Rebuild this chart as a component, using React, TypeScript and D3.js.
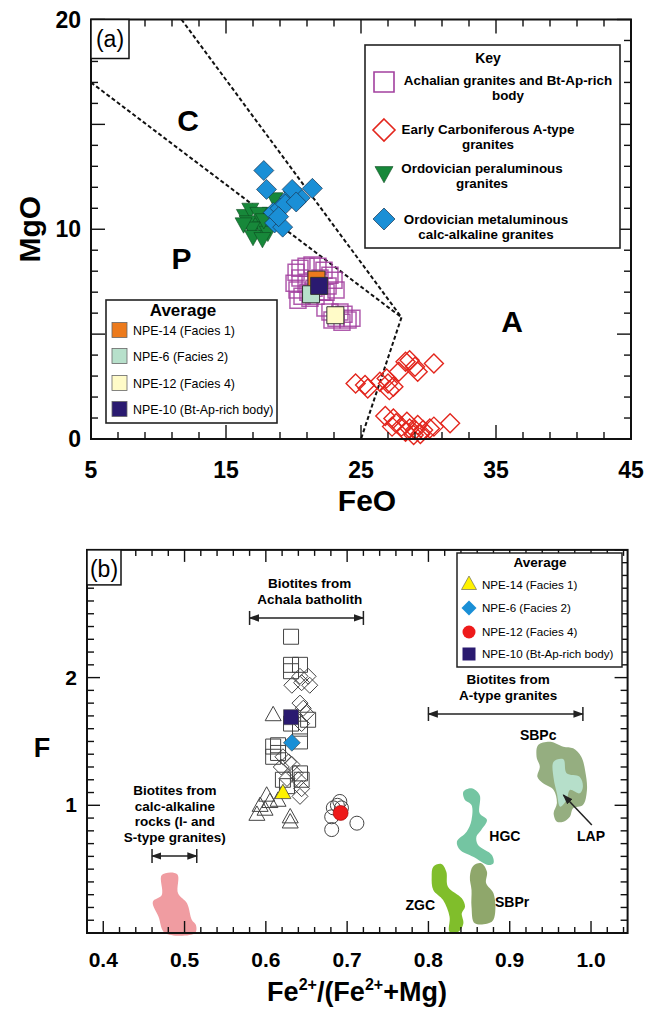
import * as d3 from "d3";

const FONT = "'Liberation Sans', Arial, Helvetica, sans-serif";

// ---------- panel (a): FeO vs MgO ----------
// Achalian granites and Bt-Ap-rich body (FeO, MgO)
const achalian: [number, number][] = [
  [20.19, 7.95], [20.48, 8.14], [20.93, 8.24], [21.37, 8.29], [21.81, 8.24], [22.26, 8.05],
  [22.7, 7.81], [23.0, 7.57], [22.56, 7.29], [22.11, 7.0], [21.67, 6.81], [21.22, 6.71],
  [20.63, 6.81], [20.26, 7.1], [20.04, 7.43], [20.48, 7.67], [20.93, 7.38], [21.52, 7.19],
  [21.96, 7.67], [22.41, 7.0], [20.33, 6.62], [21.07, 7.0], [23.15, 7.1],
  [22.33, 6.24], [22.7, 6.05], [23.15, 5.76], [23.59, 5.57], [24.04, 5.67], [24.33, 5.76],
  [23.44, 6.05], [22.85, 5.67], [23.74, 5.95],
];
// Early Carboniferous A-type granites
const aType: [number, number][] = [
  [24.6, 2.65], [25.3, 2.57], [25.5, 2.41], [26.4, 2.73], [27.0, 2.65], [27.4, 2.49],
  [27.1, 2.33], [26.9, 2.89], [27.8, 3.21], [28.3, 3.68], [28.6, 3.76], [29.0, 3.44],
  [29.2, 3.21], [30.4, 3.6],
  [26.8, 1.1], [27.4, 0.98], [27.6, 0.75], [28.0, 0.59], [28.4, 0.82], [28.6, 0.5],
  [29.0, 0.43], [29.2, 0.67], [29.6, 0.43], [30.1, 0.5], [30.4, 0.59], [31.6, 0.75],
  [28.9, 0.19], [28.3, 0.35], [29.4, 0.24], [27.3, 0.59],
];
// Ordovician peraluminous granites
const peraluminous: [number, number][] = [
  [16.4, 10.7], [16.8, 11.0], [17.2, 10.3], [17.7, 10.1], [18.1, 9.9], [18.3, 10.8],
  [18.6, 11.5], [16.6, 10.4], [17.4, 10.8], [17.8, 10.5], [16.9, 10.1], [16.3, 10.3],
  [17.0, 9.7], [17.7, 9.6],
];
// Ordovician metaluminous calc-alkaline granites
const metaluminous: [number, number][] = [
  [17.8, 12.8], [18.0, 11.9], [20.0, 11.8], [19.7, 11.5], [20.5, 11.5], [21.4, 11.95],
  [18.5, 10.8], [19.0, 11.0], [19.4, 11.2], [18.6, 10.3], [19.2, 10.1], [19.9, 11.9],
  [20.2, 11.3], [18.9, 10.6],
];
const avgNames = ["NPE-14 (Facies 1)", "NPE-6 (Facies 2)", "NPE-12 (Facies 4)", "NPE-10 (Bt-Ap-rich body)"];
const avgFeO = [21.7, 21.3, 23.1, 21.9];
const avgMgO = [7.6, 6.9, 5.9, 7.3];
const avgColorsA = ["#EC7A1C", "#B7E0CB", "#FFFBC8", "#2A1A70"];

const boundaries: [number, number][][] = [
  [[5, 17], [28, 5.8]],
  [[11.7, 20], [28, 5.8]],
  [[28, 5.8], [25, 0]],
];
const fields = [
  { t: "C", fe: 12.2, mg: 15.2 },
  { t: "P", fe: 11.7, mg: 8.6 },
  { t: "A", fe: 36.2, mg: 5.6 },
];
const keyLabels = [
  ["Achalian granites and Bt-Ap-rich", "body"],
  ["Early Carboniferous A-type", "granites"],
  ["Ordovician peraluminous", "granites"],
  ["Ordovician metaluminous", "calc-alkaline granites"],
];

// ---------- panel (b): F vs Fe2+/(Fe2++Mg) ----------
const bSquares: [number, number][] = [
  [0.631, 2.32], [0.631, 2.1], [0.642, 2.1], [0.631, 2.05], [0.652, 1.67], [0.642, 1.6],
  [0.642, 1.5], [0.609, 1.46], [0.615, 1.41], [0.609, 1.38], [0.642, 1.25], [0.644, 1.2],
  [0.621, 1.2], [0.626, 1.15], [0.631, 1.64], [0.615, 1.47],
];
const bDiamonds: [number, number][] = [
  [0.632, 1.94], [0.644, 1.96], [0.652, 2.01], [0.654, 1.94], [0.642, 2.01], [0.642, 1.8],
  [0.646, 1.76], [0.644, 1.64], [0.621, 1.38], [0.628, 1.34], [0.619, 1.3], [0.632, 1.32],
  [0.636, 1.25], [0.626, 1.21], [0.64, 1.2], [0.644, 1.13], [0.642, 1.07], [0.65, 1.72],
];
const bTriangles: [number, number][] = [
  [0.609, 1.7], [0.601, 1.07], [0.593, 0.99], [0.589, 0.92], [0.599, 0.96], [0.605, 1.02],
  [0.615, 1.03], [0.63, 0.9], [0.63, 0.86],
];
const bCircles: [number, number][] = [
  [0.683, 0.98], [0.691, 1.03], [0.693, 0.98], [0.681, 0.91], [0.681, 0.81], [0.712, 0.86],
  [0.688, 1.0],
];
const avgRatio = [0.621, 0.632, 0.692, 0.631];
const avgF = [1.09, 1.49, 0.94, 1.69];
const avgColorsB = ["#FFF200", "#1A8FD6", "#EE1A1A", "#2A1A70"];

// field outlines of other biotite suites
const calcAlkaline: [number, number][] = [
  [0.472, 0.454], [0.491, 0.46], [0.492, 0.311], [0.503, 0.233], [0.509, 0.102], [0.514, 0.063],
  [0.513, 0], [0.476, 0], [0.468, 0.128], [0.461, 0.245], [0.472, 0.298],
];
const zgc: [number, number][] = [
  [0.806, 0.519], [0.816, 0.54], [0.822, 0.48], [0.824, 0.363], [0.841, 0.272], [0.845, 0.206],
  [0.841, 0.154], [0.843, 0.076], [0.837, 0.01], [0.826, 0.01], [0.826, 0.128], [0.818, 0.258],
  [0.806, 0.337], [0.804, 0.441],
];
const sbpr: [number, number][] = [
  [0.855, 0.525], [0.865, 0.546], [0.872, 0.48], [0.871, 0.389], [0.88, 0.311], [0.882, 0.154],
  [0.878, 0.088], [0.857, 0.076], [0.853, 0.206], [0.853, 0.337], [0.851, 0.441],
];
const hgc: [number, number][] = [
  [0.843, 1.106], [0.853, 1.133], [0.863, 1.081], [0.863, 0.937], [0.872, 0.885], [0.865, 0.807],
  [0.859, 0.754], [0.861, 0.689], [0.878, 0.611], [0.88, 0.546], [0.874, 0.532], [0.855, 0.597],
  [0.839, 0.65], [0.835, 0.715], [0.847, 0.793], [0.853, 0.885], [0.853, 1.002], [0.845, 1.041],
];
const sbpc: [number, number][] = [
  [0.935, 1.472], [0.95, 1.498], [0.966, 1.459], [0.978, 1.446], [0.988, 1.381], [0.993, 1.263],
  [0.995, 1.12], [0.99, 1.002], [0.978, 0.977], [0.974, 0.911], [0.966, 0.872], [0.958, 0.872],
  [0.954, 0.937], [0.958, 1.016], [0.954, 1.12], [0.941, 1.172], [0.934, 1.224], [0.937, 1.302],
  [0.933, 1.381],
];
const lap: [number, number][] = [
  [0.954, 1.341], [0.966, 1.36], [0.97, 1.251], [0.986, 1.224], [0.99, 1.146], [0.986, 1.094],
  [0.974, 1.12], [0.97, 1.041], [0.962, 0.989], [0.958, 1.094], [0.954, 1.211],
];
const blobLabels = [
  { t: "ZGC", x: 0.79, f: 0.22 },
  { t: "SBPr", x: 0.903, f: 0.245 },
  { t: "HGC", x: 0.894, f: 0.76 },
  { t: "SBPc", x: 0.935, f: 1.55 },
  { t: "LAP", x: 1.0, f: 0.76 },
];
const ranges = [
  { lo: 0.58, hi: 0.72, f: 2.467, cx: 0.654, lines: ["Biotites from", "Achala batholith"] },
  { lo: 0.8, hi: 0.99, f: 1.715, cx: 0.898, lines: ["Biotites from", "A-type granites"] },
  { lo: 0.46, hi: 0.515, f: 0.603, cx: 0.488, lines: ["Biotites from", "calc-alkaline", "rocks (I- and", "S-type granites)"] },
];

// ---------- symbol paths ----------
const sq = (x: number, y: number, s: number) => `M${x - s / 2},${y - s / 2}h${s}v${s}h${-s}Z`;
const dia = (x: number, y: number, r: number) => `M${x},${y - r}L${x + r},${y}L${x},${y + r}L${x - r},${y}Z`;
const triUp = (x: number, y: number, s: number) => {
  const h = s * 0.9;
  return `M${x},${y - (2 * h) / 3}L${x + s / 2},${y + h / 3}L${x - s / 2},${y + h / 3}Z`;
};
const triDown = (x: number, y: number, s: number) => {
  const h = s * 0.9;
  return `M${x},${y + (2 * h) / 3}L${x + s / 2},${y - h / 3}L${x - s / 2},${y - h / 3}Z`;
};

export default function App() {
  const xA = d3.scaleLinear().domain([5, 45]).range([91, 631]);
  const yA = d3.scaleLinear().domain([0, 20]).range([439, 19.5]);
  const xB = d3.scaleLinear().domain([0.38, 1.045]).range([87, 627.6]);
  const yB = d3.scaleLinear().domain([0, 3]).range([933, 933 - 3 * 127.7]);

  const xTicksA = d3.range(5, 45.01, 2);
  const yTicksA = d3.range(0, 20.01, 1);
  const xTicksB = d3.range(38, 104.5, 2).map((v) => v / 100);
  const yTicksB = d3.range(0, 30.01, 1).map((v) => v / 10);
  const isMajA = (v: number) => (v - 5) % 10 === 0;
  const isMajBx = (v: number) => Math.abs(v * 10 - Math.round(v * 10)) < 1e-6;
  const isMajBy = (v: number) => Math.abs(v - Math.round(v)) < 1e-6;

  const line = d3.line();
  const blob = (pts: [number, number][]) =>
    d3.line().curve(d3.curveCatmullRomClosed.alpha(0.5))(pts.map(([x, f]) => [xB(x), yB(f)])) || "";

  const [a0, a1] = xA.range();
  const [ab, at] = yA.range();
  const [b0, b1] = xB.range();
  const [bb, bt] = yB.range();

  const tickStyle = { stroke: "#111", strokeWidth: 1.4 };

  return (
    <div style={{ position: "absolute", left: 0, top: 0 }}>
      <svg width={647} height={1009} style={{ display: "block", fontFamily: FONT }}>
        <defs>
          <marker id="ah" viewBox="0 0 10 10" refX="9" refY="5" markerWidth="7" markerHeight="7" orient="auto-start-reverse">
            <path d="M0,1.5L10,5L0,8.5Z" fill="#222" />
          </marker>
        </defs>
        <rect width={647} height={1009} fill="#fff" />

        {/* ================= panel (a) ================= */}
        <g>
          {boundaries.map((b, i) => (
            <path key={i} d={line(b.map(([x, y]) => [xA(x), yA(y)])) || ""} stroke="#111" strokeWidth={2} strokeDasharray="4,2.5" fill="none" />
          ))}
          {fields.map((f) => (
            <text key={f.t} x={xA(f.fe)} y={yA(f.mg)} fontSize={30} fontWeight="bold" textAnchor="middle" dominantBaseline="central">{f.t}</text>
          ))}

          {achalian.map(([x, y], i) => (
            <path key={i} d={sq(xA(x), yA(y), 16)} fill="none" stroke="#A2409F" strokeWidth={1.5} strokeOpacity={0.85} />
          ))}
          {aType.map(([x, y], i) => (
            <path key={i} d={dia(xA(x), yA(y), 9.5)} fill="none" stroke="#E3261D" strokeWidth={1.4} />
          ))}
          {peraluminous.map(([x, y], i) => (
            <path key={i} d={triDown(xA(x), yA(y), 17)} fill="#17883A" stroke="#0d4a20" strokeWidth={0.6} />
          ))}
          {metaluminous.map(([x, y], i) => (
            <path key={i} d={dia(xA(x), yA(y), 10)} fill="#1A8FD6" stroke="#1b3550" strokeWidth={0.7} />
          ))}
          {[0, 1, 2, 3].map((i) => (
            <path key={i} d={sq(xA(avgFeO[i]), yA(avgMgO[i]), 17)} fill={avgColorsA[i]} stroke="#333" strokeWidth={1} />
          ))}

          {/* axes frame */}
          <rect x={a0} y={at} width={a1 - a0} height={ab - at} fill="none" stroke="#111" strokeWidth={2} />
          {xTicksA.map((v) => {
            const L = isMajA(v) ? 14 : 7;
            return (
              <g key={v}>
                <line x1={xA(v)} x2={xA(v)} y1={ab} y2={ab - L} {...tickStyle} />
                <line x1={xA(v)} x2={xA(v)} y1={at} y2={at + L} {...tickStyle} />
              </g>
            );
          })}
          {yTicksA.map((v) => {
            const L = v % 5 === 0 ? 14 : 7;
            return (
              <g key={v}>
                <line x1={a0} x2={a0 + L} y1={yA(v)} y2={yA(v)} {...tickStyle} />
                <line x1={a1} x2={a1 - L} y1={yA(v)} y2={yA(v)} {...tickStyle} />
              </g>
            );
          })}
          {[5, 15, 25, 35, 45].map((v) => (
            <text key={v} x={xA(v)} y={478} fontSize={23} fontWeight="bold" textAnchor="middle">{v}</text>
          ))}
          {[0, 10, 20].map((v) => (
            <text key={v} x={81} y={yA(v) + 8} fontSize={23} fontWeight="bold" textAnchor="end">{v}</text>
          ))}
          <text x={367} y={511} fontSize={30} fontWeight="bold" textAnchor="middle">FeO</text>
          <text transform={`translate(40,${yA(10)}) rotate(-90)`} fontSize={30} fontWeight="bold" textAnchor="middle">MgO</text>

          {/* (a) tag */}
          <rect x={a0} y={at} width={38} height={39} fill="#fff" stroke="#111" strokeWidth={1.5} />
          <text x={a0 + 19} y={at + 27} fontSize={23} textAnchor="middle">(a)</text>

          {/* Key */}
          <rect x={365} y={45} width={255} height={203} fill="#fff" stroke="#222" strokeWidth={1.6} />
          <text x={488} y={63} fontSize={14} fontWeight="bold" textAnchor="middle">Key</text>
          <path d={sq(384, 82, 20)} fill="none" stroke="#A2409F" strokeWidth={1.6} />
          <path d={dia(384, 130, 11)} fill="none" stroke="#E3261D" strokeWidth={1.6} />
          <path d={triDown(384, 172, 18)} fill="#17883A" stroke="#0d4a20" strokeWidth={0.6} />
          <path d={dia(384, 219, 11)} fill="#1A8FD6" stroke="#1b3550" strokeWidth={0.7} />
          {keyLabels.map((ls, i) => {
            const cx = [508, 488, 482, 486][i];
            const by = [85, 134, 173, 224][i];
            return ls.map((l, j) => (
              <text key={`${i}-${j}`} x={cx} y={by + j * 14.5} fontSize={13.4} fontWeight="bold" textAnchor="middle">{l}</text>
            ));
          })}

          {/* Average legend */}
          <rect x={106} y={300} width={171} height={123} fill="#fff" stroke="#222" strokeWidth={1.6} />
          <text x={183} y={316} fontSize={17} fontWeight="bold" textAnchor="middle">Average</text>
          {avgNames.map((n, i) => {
            const cy = [330, 356, 383, 409][i];
            return (
              <g key={n}>
                <rect x={112} y={cy - 7.5} width={15} height={15} fill={avgColorsA[i]} stroke="#666" strokeWidth={0.8} />
                <text x={133} y={cy + 4.5} fontSize={12.4}>{n}</text>
              </g>
            );
          })}
        </g>

        {/* ================= panel (b) ================= */}
        <g>
          <path d={blob(calcAlkaline)} fill="#F09CA1" />
          <path d={blob(zgc)} fill="#80BE2B" />
          <path d={blob(sbpr)} fill="#8FA76B" />
          <path d={blob(hgc)} fill="#74C5A2" />
          <path d={blob(sbpc)} fill="#95AE80" />
          <path d={blob(lap)} fill="#B6DFCA" />
          {blobLabels.map((b) => (
            <text key={b.t} x={xB(b.x)} y={yB(b.f)} fontSize={14} fontWeight="bold" textAnchor="middle" dominantBaseline="central">{b.t}</text>
          ))}
          <line x1={xB(1.001)} y1={yB(0.846)} x2={xB(0.966)} y2={yB(1.081)} stroke="#222" strokeWidth={1.5} markerEnd="url(#ah)" />

          {bSquares.map(([x, f], i) => (
            <path key={i} d={sq(xB(x), yB(f), 15)} fill="none" stroke="#444" strokeWidth={1} />
          ))}
          {bDiamonds.map(([x, f], i) => (
            <path key={i} d={dia(xB(x), yB(f), 8)} fill="none" stroke="#444" strokeWidth={1} />
          ))}
          {bTriangles.map(([x, f], i) => (
            <path key={i} d={triUp(xB(x), yB(f), 16)} fill="none" stroke="#444" strokeWidth={1} />
          ))}
          {bCircles.map(([x, f], i) => (
            <circle key={i} cx={xB(x)} cy={yB(f)} r={7} fill="none" stroke="#444" strokeWidth={1} />
          ))}
          <path d={triUp(xB(avgRatio[0]), yB(avgF[0]), 16)} fill={avgColorsB[0]} stroke="#444" strokeWidth={0.8} />
          <path d={dia(xB(avgRatio[1]), yB(avgF[1]), 8.5)} fill={avgColorsB[1]} stroke="#444" strokeWidth={0.6} />
          <circle cx={xB(avgRatio[2])} cy={yB(avgF[2])} r={7.5} fill={avgColorsB[2]} stroke="#900" strokeWidth={0.6} />
          <path d={sq(xB(avgRatio[3]), yB(avgF[3]), 15)} fill={avgColorsB[3]} stroke="#444" strokeWidth={0.6} />

          {ranges.map((r, i) => {
            const y = yB(r.f);
            return (
              <g key={i}>
                <line x1={xB(r.lo)} x2={xB(r.hi)} y1={y} y2={y} stroke="#222" strokeWidth={1.5} markerStart="url(#ah)" markerEnd="url(#ah)" />
                <line x1={xB(r.lo)} x2={xB(r.lo)} y1={y - 7} y2={y + 7} stroke="#222" strokeWidth={1.5} />
                <line x1={xB(r.hi)} x2={xB(r.hi)} y1={y - 7} y2={y + 7} stroke="#222" strokeWidth={1.5} />
                {r.lines.map((l, j) => (
                  <text key={j} x={xB(r.cx)} y={y - 14 - (r.lines.length - 1 - j) * 15.6} fontSize={13.5} fontWeight="bold" textAnchor="middle">{l}</text>
                ))}
              </g>
            );
          })}

          {/* axes frame */}
          <rect x={b0} y={bt} width={b1 - b0} height={bb - bt} fill="none" stroke="#111" strokeWidth={2} />
          {xTicksB.map((v) => {
            const L = isMajBx(v) ? 12 : 6;
            return (
              <g key={v}>
                <line x1={xB(v)} x2={xB(v)} y1={bb} y2={bb - L} {...tickStyle} />
                <line x1={xB(v)} x2={xB(v)} y1={bt} y2={bt + L} {...tickStyle} />
              </g>
            );
          })}
          {yTicksB.map((v) => {
            const L = isMajBy(v) ? 13 : 7;
            return (
              <g key={v}>
                <line x1={b0} x2={b0 + L} y1={yB(v)} y2={yB(v)} {...tickStyle} />
                <line x1={b1} x2={b1 - L} y1={yB(v)} y2={yB(v)} {...tickStyle} />
              </g>
            );
          })}
          {[0.4, 0.5, 0.6, 0.7, 0.8, 0.9, 1.0].map((v) => (
            <text key={v} x={xB(v)} y={967} fontSize={21} fontWeight="bold" textAnchor="middle">{v.toFixed(1)}</text>
          ))}
          {[1, 2].map((v) => (
            <text key={v} x={77} y={yB(v) + 7} fontSize={21} fontWeight="bold" textAnchor="end">{v}</text>
          ))}
          <text x={42} y={757} fontSize={27} fontWeight="bold" textAnchor="middle">F</text>
          <text x={357} y={1001} fontSize={27} fontWeight="bold" textAnchor="middle">
            Fe<tspan fontSize={16} dy={-11}>2+</tspan><tspan dy={11}>/(Fe</tspan><tspan fontSize={16} dy={-11}>2+</tspan><tspan dy={11}>+Mg)</tspan>
          </text>

          {/* (b) tag */}
          <rect x={b0} y={bt} width={34} height={35} fill="#fff" stroke="#111" strokeWidth={1.5} />
          <text x={b0 + 17} y={bt + 27} fontSize={23} textAnchor="middle">(b)</text>

          {/* Average legend */}
          <rect x={457} y={553} width={165} height={114} fill="#fff" stroke="#222" strokeWidth={1.5} />
          <text x={540} y={567} fontSize={13.5} fontWeight="bold" textAnchor="middle">Average</text>
          {avgNames.map((n, i) => {
            const cy = [585, 608, 632, 654][i];
            const sym =
              i === 0 ? <path d={triUp(469, cy, 15)} fill={avgColorsB[0]} stroke="#555" strokeWidth={0.6} /> :
              i === 1 ? <path d={dia(469, cy, 7.5)} fill={avgColorsB[1]} /> :
              i === 2 ? <circle cx={469} cy={cy} r={6.5} fill={avgColorsB[2]} /> :
              <rect x={462.5} y={cy - 6.5} width={13} height={13} fill={avgColorsB[3]} />;
            return (
              <g key={n}>
                {sym}
                <text x={482} y={cy + 4} fontSize={11.6}>{n}</text>
              </g>
            );
          })}
        </g>
      </svg>
    </div>
  );
}
